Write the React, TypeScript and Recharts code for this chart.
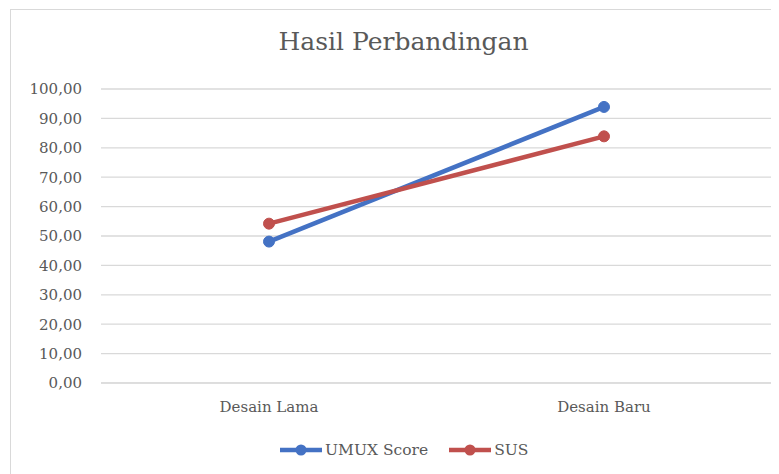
import { LineChart, Line, XAxis, YAxis, CartesianGrid } from 'recharts'

const categories = ['Desain Lama', 'Desain Baru']
const umuxScore = [48.1, 93.9]
const susScore = [54.2, 83.9]
const yTicks = [0, 10, 20, 30, 40, 50, 60, 70, 80, 90, 100]

const data = categories.map((c, i) => ({ name: c, umux: umuxScore[i], sus: susScore[i] }))

const FONT = '"DejaVu Serif", serif'
const TEXT = '#595959'
const BLUE = '#4472C4'
const RED = '#C0504D'

const fmt = (v: number) => v.toFixed(2).replace('.', ',')

function LegendItem({ color, label }: { color: string; label: string }) {
  return (
    <div style={{ display: 'flex', alignItems: 'center', marginRight: 20 }}>
      <svg width={44} height={14}>
        <line x1={1} y1={7} x2={43} y2={7} stroke={color} strokeWidth={4.5} />
        <circle cx={22} cy={7} r={5.5} fill={color} />
      </svg>
      <span style={{ marginLeft: 2 }}>{label}</span>
    </div>
  )
}

export default function App() {
  return (
    <div
      style={{
        position: 'relative',
        marginLeft: 2,
        marginTop: 1,
        width: 775,
        height: 470,
        border: '1px solid #d9d9d9',
        background: '#fff',
        fontFamily: FONT,
        color: TEXT,
      }}
    >
      <div
        style={{
          position: 'absolute',
          top: 17,
          left: 0,
          width: 785,
          textAlign: 'center',
          fontSize: 25,
        }}
      >
        Hasil Perbandingan
      </div>
      <LineChart width={775} height={470} data={data} margin={{ top: 79, right: 14, bottom: 67, left: 10 }}>
        <CartesianGrid vertical={false} stroke="#d9d9d9" strokeWidth={1.3} />
        <XAxis
          dataKey="name"
          axisLine={{ stroke: '#d9d9d9' }}
          tickLine={false}
          height={30}
          tickMargin={12}
          padding={{ left: 168, right: 168 }}
          tick={{ fontFamily: FONT, fontSize: 15, fill: TEXT }}
        />
        <YAxis
          domain={[0, 100]}
          ticks={yTicks}
          width={80}
          axisLine={false}
          tickLine={false}
          tickMargin={13}
          tickFormatter={fmt}
          tick={{ fontFamily: FONT, fontSize: 15, fill: TEXT }}
        />
        <Line
          dataKey="umux"
          stroke={BLUE}
          strokeWidth={4.5}
          dot={{ r: 5.5, fill: BLUE, stroke: BLUE, strokeWidth: 1 }}
          isAnimationActive={false}
        />
        <Line
          dataKey="sus"
          stroke={RED}
          strokeWidth={4.5}
          dot={{ r: 5.5, fill: RED, stroke: RED, strokeWidth: 1 }}
          isAnimationActive={false}
        />
      </LineChart>
      <div
        style={{
          position: 'absolute',
          top: 431,
          left: 268,
          display: 'flex',
          fontSize: 15.5,
        }}
      >
        <LegendItem color={BLUE} label="UMUX Score" />
        <LegendItem color={RED} label="SUS" />
      </div>
    </div>
  )
}
